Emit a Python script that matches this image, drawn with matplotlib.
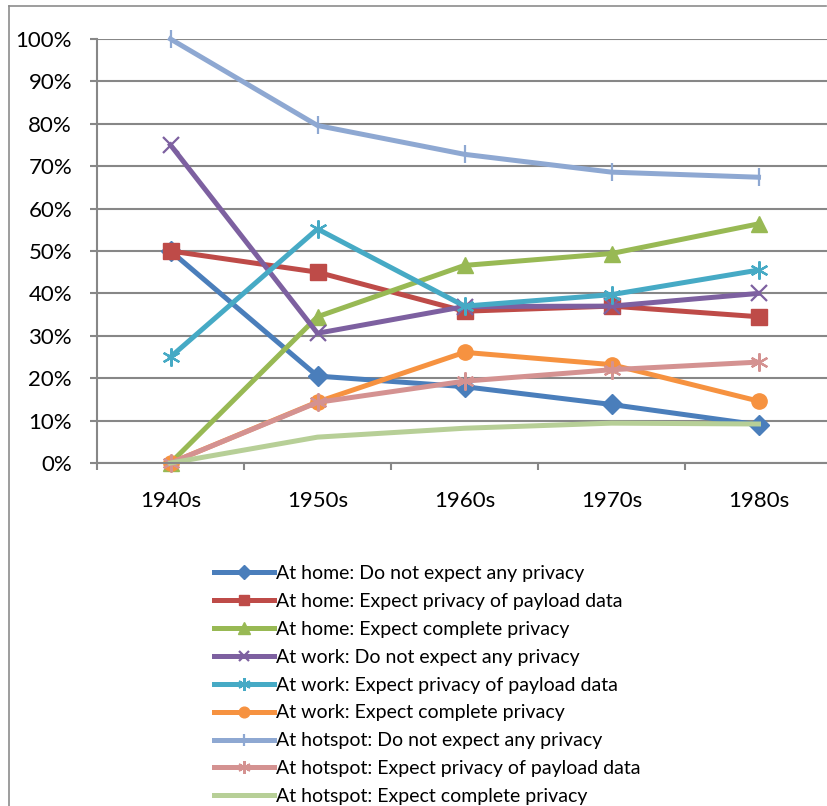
import matplotlib
matplotlib.use("Agg")
import matplotlib.pyplot as plt
from matplotlib.lines import Line2D
from matplotlib.ticker import PercentFormatter

plt.rcParams['font.family'] = ['Lato', 'DejaVu Sans']

decades = ["1940s", "1950s", "1960s", "1970s", "1980s"]

home_none = [50, 20.5, 18, 13.8, 9]
home_payload = [50, 45, 35.8, 37, 34.5]
home_complete = [0, 34.5, 46.6, 49.4, 56.4]
work_none = [75, 30.6, 36.9, 37, 40]
work_payload = [25, 55.2, 37, 39.7, 45.5]
work_complete = [0, 14.4, 26.1, 23.2, 14.6]
hotspot_none = [100, 79.6, 72.8, 68.6, 67.4]
hotspot_payload = [0, 14.3, 19.3, 22, 23.8]
hotspot_complete = [0, 6.1, 8.2, 9.4, 9.2]

series = [
    ("At home: Do not expect any privacy", home_none, "#4A7EBB", "D", 10),
    ("At home: Expect privacy of payload data", home_payload, "#BE4B48", "s", 11),
    ("At home: Expect complete privacy", home_complete, "#98B954", "^", 12),
    ("At work: Do not expect any privacy", work_none, "#7D60A0", "x", 11),
    ("At work: Expect privacy of payload data", work_payload, "#46AAC5", (6, 2, 0), 13),
    ("At work: Expect complete privacy", work_complete, "#F69240", "o", 11),
    ("At hotspot: Do not expect any privacy", hotspot_none, "#8EA8D2", "|", 13),
    ("At hotspot: Expect privacy of payload data", hotspot_payload, "#D49291", (6, 2, 0), 13),
    ("At hotspot: Expect complete privacy", hotspot_complete, "#B7CF97", None, 0),
]

W, H = 827, 806
fig = plt.figure(figsize=(W / 100, H / 100), dpi=100)

# plot area (runs past the right edge of the canvas)
left, right, top, bottom = 97, 832, 39, 463
ax = fig.add_axes([left / W, (H - bottom) / H, (right - left) / W, (bottom - top) / H])

x = list(range(len(decades)))
for label, vals, color, marker, ms in series:
    ax.plot(x, vals, color=color, lw=3.6, marker=marker, ms=ms,
            markeredgewidth=1.6 if marker in ("x", "|") or isinstance(marker, tuple) else 1,
            markeredgecolor=color, markerfacecolor=color, label=label,
            solid_joinstyle="round", clip_on=False)

ax.set_xlim(-0.5, len(decades) - 0.5)
ax.set_ylim(0, 100)
ax.set_yticks(range(0, 101, 10))
ax.yaxis.set_major_formatter(PercentFormatter(decimals=0))
ax.set_xticks(x)
ax.set_xticklabels(decades)
ax.set_xticks([i - 0.5 for i in range(len(decades) + 1)], minor=True)

grid_color = "#878787"
ax.grid(axis="y", color=grid_color, lw=1.5)
ax.set_axisbelow(True)
for side in ("top", "right"):
    ax.spines[side].set_visible(False)
for side in ("left", "bottom"):
    ax.spines[side].set_color(grid_color)
    ax.spines[side].set_linewidth(1.5)

ax.tick_params(axis="y", length=5, width=1.5, color=grid_color, labelsize=16, pad=13)
ax.tick_params(axis="x", which="major", length=0, labelsize=16, pad=20)
ax.tick_params(axis="x", which="minor", length=5, width=1.5, color=grid_color)

leg = fig.legend(loc="upper left", bbox_to_anchor=(214 / W, (H - 565) / H),
                 frameon=False, fontsize=14, handlelength=3.1, handletextpad=0.1,
                 labelspacing=0.56, borderaxespad=0, borderpad=0, markerscale=0.7)

# outer chart frame
fig.add_artist(Line2D([9 / W, 9 / W], [0, (H - 6) / H], color="#8C8C8C", lw=1.2))
fig.add_artist(Line2D([9 / W, 826 / W], [(H - 6) / H, (H - 6) / H], color="#8C8C8C", lw=1.2))

fig.savefig("out.png", dpi=100)
